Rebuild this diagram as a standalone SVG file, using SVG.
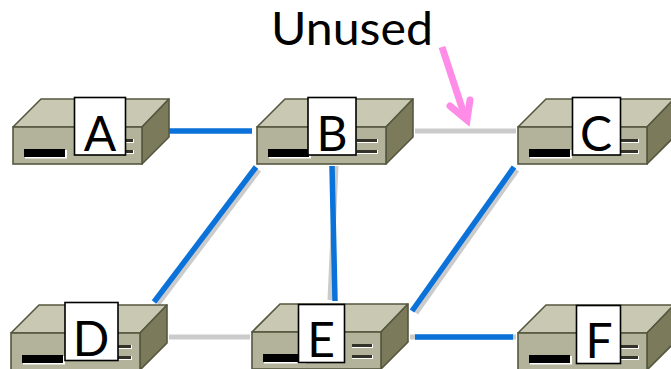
<svg xmlns="http://www.w3.org/2000/svg" width="671" height="369" viewBox="0 0 671 369">
<style>
text{font-family:Lato,"Open Sans","Liberation Sans",sans-serif;fill:#000}
.lab{font-size:48px;text-anchor:middle}
.top{fill:#c9c9b3;stroke:#55573f;stroke-width:1.6;stroke-linejoin:round}
.side{fill:#7b7b5b;stroke:#55573f;stroke-width:1.6;stroke-linejoin:round}
.front{fill:#b3b39b;stroke:#55573f;stroke-width:1.6}
.box{fill:#fff;stroke:#000;stroke-width:1.6}
.blue{stroke:#0a72d8;stroke-width:5.500;fill:none}
.gray{stroke:#cbcbcb;stroke-width:5;fill:none}
</style>
<defs>
<g id="router">
<path class="top" d="M0 28 L28 0 H156 L129 28 Z"/>
<path class="side" d="M129 28 L156 0 V38 L129 65 Z"/>
<rect class="front" x="0" y="28" width="129" height="37"/>
<rect x="12" y="51" width="42" height="8.500" fill="#fff"/>
<rect x="11" y="50" width="41" height="8"/>
<rect x="100" y="40" width="21" height="4" fill="#fff"/>
<rect x="100" y="51" width="21" height="4" fill="#fff"/>
<rect x="100" y="40" width="20" height="3" fill="#33332a"/>
<rect x="100" y="51" width="20" height="3" fill="#33332a"/>
</g>
</defs>
<g id="connectors">
<path class="gray" d="M415 131 H516"/>
<path class="gray" d="M169 337 H250"/>
<path class="gray" d="M410 337 H516"/>
<path class="gray" d="M158 304 L259 170"/>
<path class="gray" d="M336 166 L330 300"/>
<path class="gray" d="M416 313 L517 170"/>
<path class="blue" d="M169 131 H252"/>
<path class="blue" d="M154 302 L256 167"/>
<path class="blue" d="M332 166 L335 301"/>
<path class="blue" d="M412 311 L514 167"/>
<path class="blue" d="M415 337 H513"/>
<path d="M442 47 L465 117" fill="none" stroke="#ff8ce6" stroke-width="7"/>
<path d="M450 106 L467 120 L470 100" fill="none" stroke="#ff8ce6" stroke-width="7" stroke-linecap="round" stroke-linejoin="miter"/>
</g>
<g id="node-A"><use href="#router" x="13" y="99"/><rect class="box" x="74.500" y="97.500" width="51" height="57.500"/><text class="lab" x="100" y="151">A</text></g>
<g id="node-B"><use href="#router" x="257" y="99"/><rect class="box" x="308" y="97.500" width="48" height="57.500"/><text class="lab" x="332" y="151">B</text></g>
<g id="node-C"><use href="#router" x="518" y="99"/><rect class="box" x="572.500" y="97.500" width="48" height="57.500"/><text class="lab" x="596" y="151">C</text></g>
<g id="node-D"><use href="#router" x="11" y="305"/><rect class="box" x="65" y="302.500" width="53" height="58"/><text class="lab" x="91" y="356">D</text></g>
<g id="node-E"><use href="#router" x="252" y="304"/><rect class="box" x="298.500" y="304.500" width="46" height="58"/><text class="lab" x="321" y="357">E</text></g>
<g id="node-F"><use href="#router" x="518" y="305"/><rect class="box" x="576.500" y="305.500" width="44" height="58"/><text class="lab" x="599" y="358">F</text></g>
<text id="unused" x="271" y="45" font-size="46" textLength="162" lengthAdjust="spacingAndGlyphs">Unused</text>
</svg>
